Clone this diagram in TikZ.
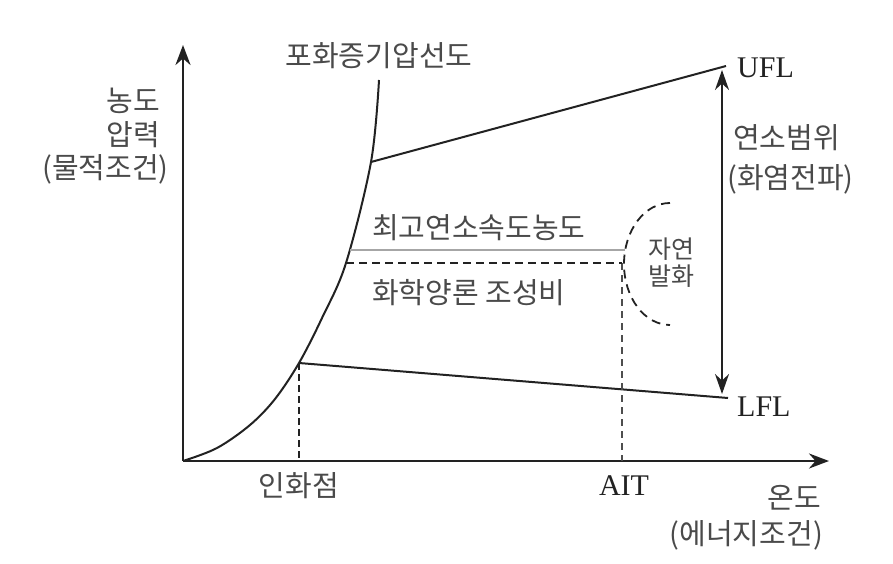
\documentclass[tikz,border=0pt]{standalone}
\usepackage{fontspec}
\setmainfont{Liberation Serif}
\newfontfamily\kr{Noto Sans CJK KR}
\usetikzlibrary{arrows.meta}
\definecolor{ink}{HTML}{222222}
\definecolor{txt}{HTML}{4A4A4A}
\tikzset{
  axis/.style={draw=ink,line width=2.8pt,-{Stealth[length=20pt,width=15pt]}},
  curveline/.style={draw=ink,line width=2pt},
  limline/.style={draw=ink,line width=2pt},
  krlab/.style={text=txt,font=\kr\fontsize{29}{34}\selectfont,inner sep=0pt},
  krsmall/.style={text=txt,font=\kr\fontsize{25}{29}\selectfont,inner sep=0pt,align=center},
  enlab/.style={text=ink,font=\fontsize{30}{34}\selectfont,inner sep=0pt},
  vdash/.style={draw=ink,line width=2pt,dash pattern=on 7pt off 4pt},
  aitdash/.style={draw=ink!80,line width=1.2pt,dash pattern=on 7pt off 5pt},
  hdash/.style={draw=ink,line width=1.5pt,dash pattern=on 8pt off 5pt},
  grayline/.style={draw=black!35,line width=1.4pt},
  rangearrow/.style={draw=ink,line width=2pt,{Stealth[length=20pt,width=14pt]}-{Stealth[length=20pt,width=14pt]}},
  arcdash/.style={draw=ink,line width=1.8pt,dash pattern=on 9pt off 6pt}
}
\begin{document}
\begin{tikzpicture}[x=1pt,y=-1pt]
\useasboundingbox (0,0) rectangle (893,564);
% key points
\coordinate (O) at (183,461);
\coordinate (ytip) at (183,45);
\coordinate (xtip) at (829,461);
\coordinate (F) at (299,363);
\coordinate (Fb) at (299,461);
\coordinate (U) at (371,162);
\coordinate (Utop) at (379,80);
\coordinate (UFLend) at (726,66);
\coordinate (LFLend) at (728,398);
\coordinate (AITb) at (622,461);
\coordinate (AITt) at (622,263);
\coordinate (S1) at (350,250);
\coordinate (S1e) at (625,250);
\coordinate (S2) at (346,263);
\coordinate (rTop) at (722,70);
\coordinate (rBot) at (722,394);
% axes
\draw[axis] (O) -- (ytip);
\draw[axis] (O) -- (xtip);
% saturation vapour pressure curve
\draw[curveline] plot[smooth,tension=0.55] coordinates {(183,461) (217,448) (250,425) (275,399) (299,363) (322,318) (346,263) (371,162) (379,80)};
% flammability limits
\draw[limline] (U) -- (UFLend);
\draw[limline] (F) -- (LFLend);
% dashed verticals
\draw[vdash] (F) -- (Fb);
\draw[aitdash] (AITt) -- (AITb);
% stoichiometric & max burning velocity
\draw[grayline] (S1) -- (S1e);
\draw[hdash] (S2) -- (AITt);
% range arrow
\draw[rangearrow] (rTop) -- (rBot);
% autoignition arc
\draw[arcdash] (670,203) arc[start angle=-90,end angle=-270,x radius=46,y radius=61];
% labels
\node[krlab,anchor=center] (satlab) at (379,56) {포화증기압선도};
\node[krlab,anchor=east] (ylab1) at (160,101) {농도};
\node[krlab,anchor=east] (ylab2) at (160,135) {압력};
\node[krlab,anchor=east] (ylab3) at (169,169) {(물적조건)};
\node[enlab,anchor=west] (ufl) at (737,68) {UFL};
\node[enlab,anchor=west] (lfl) at (737,407) {LFL};
\node[krlab,anchor=west] (rng1) at (733,138) {연소범위};
\node[krlab,anchor=west] (rng2) at (727,179) {(화염전파)};
\node[krlab,anchor=west] (maxv) at (372,228) {최고연소속도농도};
\node[krlab,anchor=west] (stoi) at (372,293) {화학양론 조성비};
\node[krsmall] (auto) at (671,263) {자연\\[-2pt]발화};
\node[krlab] (flash) at (299,486) {인화점};
\node[enlab] (ait) at (624,486) {AIT};
\node[krlab,anchor=east] (temp) at (821,498) {온도};
\node[krlab,anchor=east] (temp2) at (823,535) {(에너지조건)};
\end{tikzpicture}
\end{document}
